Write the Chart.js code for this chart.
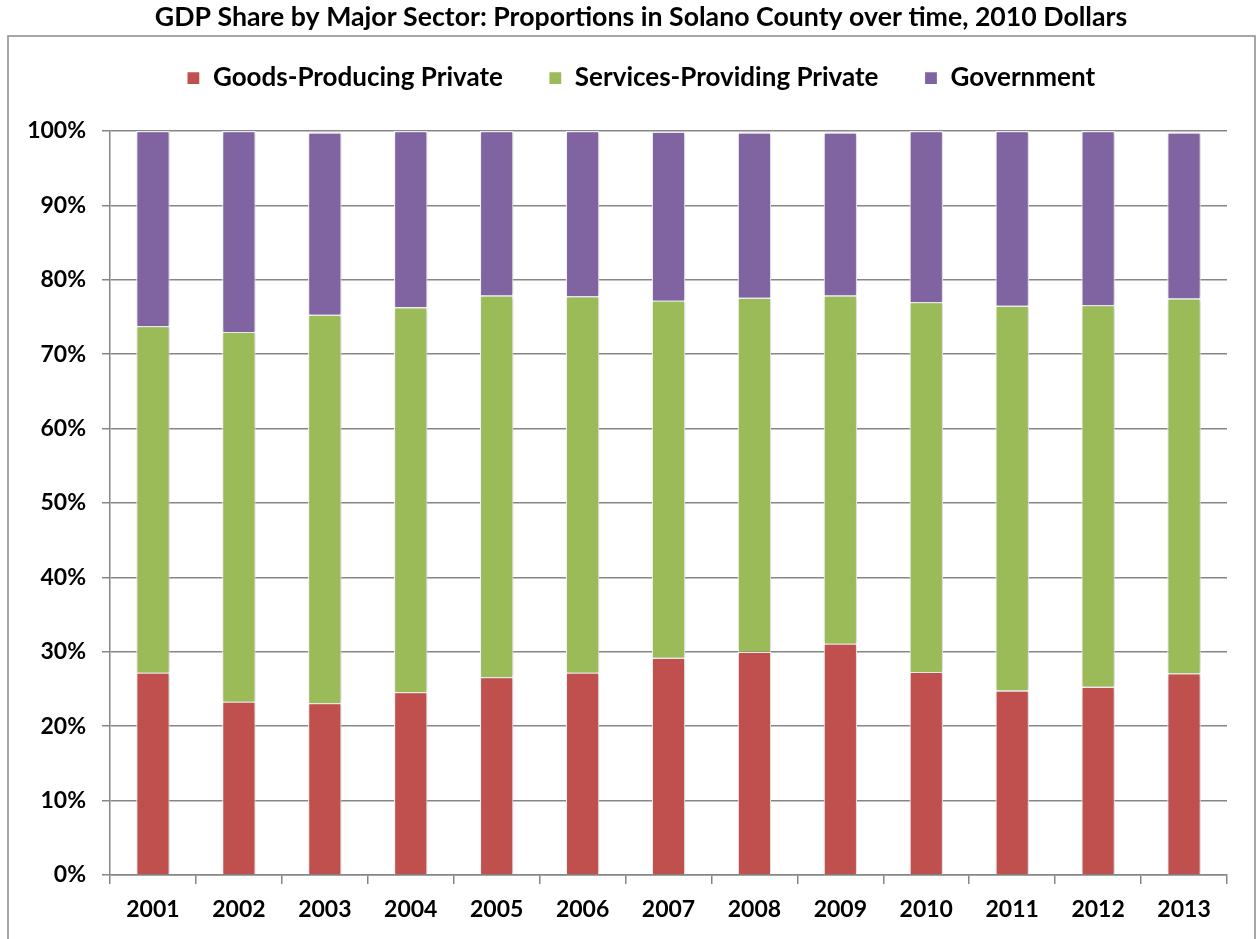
<!DOCTYPE html>
<html>
<head>
<meta charset="utf-8">
<script src="https://cdn.jsdelivr.net/npm/chart.js@4.4.1/dist/chart.umd.min.js"></script>
<style>
  html, body { margin: 0; padding: 0; background: #fff; }
  #wrap { width: 1257px; height: 939px; position: relative; }
</style>
</head>
<body>
<div id="wrap"><canvas id="chart"></canvas></div>
<script>
// years on the x axis
const years = ['2001','2002','2003','2004','2005','2006','2007','2008','2009','2010','2011','2012','2013'];

// shares in percent
const goods    = [27.2, 23.3, 23.1, 24.6, 26.6, 27.2, 29.2, 30.0, 31.1, 27.3, 24.8, 25.3, 27.1];
const services = [46.6, 49.7, 52.2, 51.7, 51.3, 50.6, 48.0, 47.6, 46.8, 49.7, 51.7, 51.3, 50.4];
const govt     = [26.2, 27.0, 24.5, 23.7, 22.1, 22.2, 22.7, 22.2, 21.9, 23.0, 23.5, 23.4, 22.3];

const yTicks = [0, 10, 20, 30, 40, 50, 60, 70, 80, 90, 100];

const FONT = 'Lato';
const GRID = '#868686';

// outer frame under the title, like the excel chart area
const framePlugin = {
  id: 'frame',
  beforeDraw(chart) {
    const c = chart.ctx;
    c.save();
    c.strokeStyle = '#8a8a8a';
    c.lineWidth = 1.5;
    c.strokeRect(8, 36, 1247, 920);
    c.restore();
  }
};

// excel leaves a gap under the legend, chart.js does not -> stretch the legend box
const legendGap = {
  id: 'legendGap',
  beforeUpdate(chart) {
    const lg = chart.legend;
    if (lg && !lg._gapPatched) {
      const fit = lg.fit.bind(lg);
      lg.fit = function () { fit(); this.height += 30; };
      lg._gapPatched = true;
    }
  }
};

// soft shadow behind the bars
const shadowPlugin = {
  id: 'barShadow',
  beforeDatasetsDraw(chart) {
    const c = chart.ctx;
    c.save();
    c.shadowColor = 'rgba(0,0,0,0.22)';
    c.shadowBlur = 4;
    c.shadowOffsetX = 1;
  },
  afterDatasetsDraw(chart) {
    chart.ctx.restore();
  }
};

var ctx = document.getElementById('chart').getContext('2d');
var myChart = new Chart(ctx, {
  type: 'bar',
  data: {
    labels: years,
    datasets: [
      { label: 'Goods-Producing Private', data: goods, backgroundColor: '#C0504D', borderColor: '#ffffff', borderWidth: 1.2 },
      { label: 'Services-Providing Private', data: services, backgroundColor: '#9BBB59', borderColor: '#ffffff', borderWidth: 1.2 },
      { label: 'Government', data: govt, backgroundColor: '#8064A2', borderColor: '#ffffff', borderWidth: 1.2 }
    ]
  },
  plugins: [framePlugin, legendGap, shadowPlugin],
  options: {
    responsive: true,
    maintainAspectRatio: false,
    animation: false,
    layout: { padding: { left: 25, right: 0, top: 0, bottom: 0 } },
    datasets: { bar: { categoryPercentage: 1, barPercentage: 0.39 } },
    plugins: {
      title: {
        display: true,
        text: 'GDP Share by Major Sector: Proportions in Solano County over time, 2010 Dollars',
        color: '#000',
        font: { family: FONT, size: 26.7, weight: 'bold' },
        padding: { top: 1, bottom: -14 }
      },
      legend: {
        position: 'top',
        labels: {
          color: '#000',
          font: { family: FONT, size: 26, weight: 'bold' },
          boxWidth: 13,
          boxHeight: 13,
          padding: 46
        }
      },
      tooltip: { enabled: false }
    },
    scales: {
      x: {
        stacked: true,
        grid: { display: true, drawOnChartArea: false, offset: true, color: GRID, lineWidth: 1.5, tickLength: 9 },
        border: { display: true, color: GRID, width: 1.5 },
        ticks: { color: '#000', font: { family: FONT, size: 23, weight: 'bold' }, padding: 12, maxRotation: 0 },
        afterFit(scale) { scale.height = 64; }
      },
      y: {
        stacked: true,
        min: 0,
        max: 100,
        afterBuildTicks(scale) { scale.ticks = yTicks.map(v => ({ value: v })); },
        grid: { color: GRID, lineWidth: 1.5, tickLength: 8 },
        border: { display: true, color: GRID, width: 1.5 },
        ticks: {
          color: '#000',
          font: { family: FONT, size: 23, weight: 'bold' },
          padding: 16,
          callback: v => v + '%'
        },
        afterFit(scale) { scale.width = 85; }
      },
      // empty strip on the right so the plot ends where excel's does
      yRight: {
        position: 'right',
        min: 0,
        max: 100,
        grid: { display: false },
        border: { display: false },
        ticks: { display: false },
        afterFit(scale) { scale.width = 30; }
      }
    }
  }
});
</script>
</body>
</html>
